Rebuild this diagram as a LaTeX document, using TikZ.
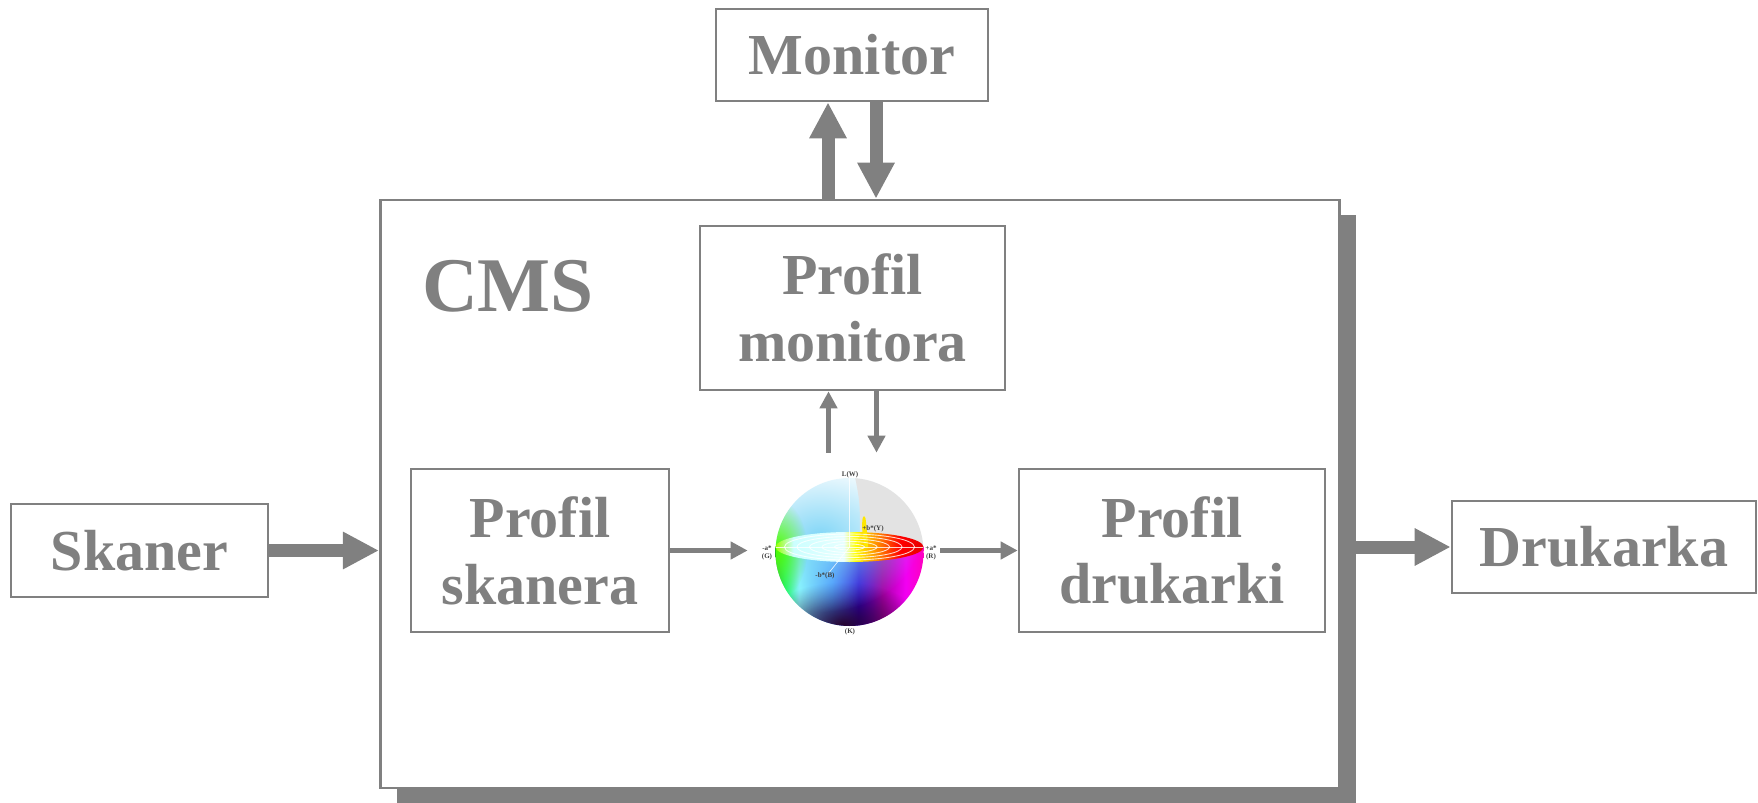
\documentclass[tikz,border=0pt]{standalone}
\usepackage{fontspec}
\setmainfont{Liberation Serif}
\usetikzlibrary{arrows.meta, positioning, calc, shadows, fadings}

\definecolor{cmsgray}{RGB}{128,128,128}

% hue bands for the colour sphere (lower half and equator plane)
\pgfdeclarehorizontalshading{labhue}{100bp}{color(0bp)=(green!60!black); color(25bp)=(green!60!black); color(28bp)=(green!70!cyan); color(33bp)=(cyan!45!white); color(44bp)=(cyan!40!blue!75!white); color(53bp)=(blue!65!violet); color(61bp)=(violet!70!magenta); color(69bp)=(magenta!90!violet); color(75bp)=(magenta!75!red); color(100bp)=(magenta!75!red)}
\pgfdeclarehorizontalshading{labdisk}{100bp}{color(0bp)=(green!40!yellow); color(25bp)=(green!40!yellow); color(31bp)=(cyan!20); color(48bp)=(cyan!10); color(52bp)=(yellow); color(60bp)=(orange); color(67bp)=(red); color(75bp)=(red!90!black); color(100bp)=(red!90!black)}
\tikzfading[name=softblob, inner color=transparent!0, outer color=transparent!100]

\begin{document}
\begin{tikzpicture}[
	box/.style={draw=cmsgray, line width=1.5pt, fill=white, inner sep=0pt, align=center,
		text=cmsgray, font=\fontsize{33}{38}\selectfont\bfseries},
	bigarrow/.style={draw=cmsgray, line width=0.26cm, -{Triangle[length=0.72cm, width=0.7cm]}},
	smallarrow/.style={draw=cmsgray, line width=0.1cm, -{Triangle[length=0.34cm, width=0.34cm]}},
	labtext/.style={font=\fontsize{4}{4.5}\selectfont\bfseries, text=black!75, inner sep=0pt, align=center}
	]
	
	\useasboundingbox (0,0) rectangle (35.16,16.04);
	
	% CMS frame with its shadow
	\node[box, minimum width=19.19cm, minimum height=11.76cm,
		general shadow={fill=cmsgray, shadow xshift=0.33cm, shadow yshift=-0.3cm}] (cms) at (17.2,6.16) {};
	\node[anchor=base, text=cmsgray, font=\fontsize{44}{44}\selectfont\bfseries] (cmslabel) at (10.16,9.8) {CMS};
	
	\node[box, minimum width=5.44cm, minimum height=1.84cm] (monitor) at (17.04,14.94) {Monitor};
	\node[box, minimum width=6.1cm, minimum height=3.28cm] (pmon) at (17.05,9.88) {Profil\\monitora};
	\node[box, minimum width=5.16cm, minimum height=3.26cm] (pskan) at (10.8,5.03) {Profil\\skanera};
	\node[box, minimum width=6.12cm, minimum height=3.26cm] (pdruk) at (23.44,5.03) {Profil\\drukarki};
	\node[box, minimum width=5.14cm, minimum height=1.86cm] (skaner) at (2.79,5.03) {Skaner};
	\node[box, minimum width=6.08cm, minimum height=1.84cm] (druk) at (32.08,5.1) {Drukarka};
	
	% room for the colour sphere
	\node[minimum width=3.84cm, minimum height=3.96cm, inner sep=0pt] (lab) at (16.88,5.0) {};
	\coordinate (sph) at (16.99,5.0);
	
	% colour sphere
	\begin{scope}
		\clip (sph) circle (1.48);
		\shade[shading=labhue] (15.51,3.5) rectangle (18.47,5.12);
		\fill[black!70!violet, opacity=0.95, path fading=softblob] (16.85,3.55) ellipse (1.6 and 0.85);
		\fill[white] (15.5,5.1) rectangle (18.5,6.5);
		\fill[cyan!50, path fading=softblob] (16.4,5.3) ellipse (2.0 and 1.5);
		\fill[green!70!yellow, path fading=softblob] (15.55,5.05) ellipse (0.6 and 1.0);
		\fill[gray!22] (17.1,6.5) .. controls (17.2,6.0) .. (17.2,5.1) -- (18.5,5.1) -- (18.5,6.5) -- cycle;
		\shade[shading=labdisk] (16.99,5.1) ellipse (1.48 and 0.3);
		\fill[yellow!90!orange] (17.28,5.1) -- (17.24,5.5) .. controls (17.25,5.7) .. (17.28,5.72) .. controls (17.31,5.7) .. (17.33,5.5) -- (17.36,5.1) -- cycle;
		\foreach \r in {0.3,0.55,0.8,1.05,1.3}
			\draw[white, line width=0.5pt, opacity=0.8] (16.99,5.1) ellipse ({\r} and {\r*0.2});
		\draw[white, line width=0.4pt, opacity=0.8] (15.5,5.1) -- (18.5,5.1);
		\draw[white, line width=0.4pt, opacity=0.8] (16.99,6.5) -- (16.99,5.1) -- (16.55,4.55);
	\end{scope}
	
	\node[labtext] (lw) at (17.0,6.54) {L(W)};
	\node[labtext] (by) at (17.46,5.46) {+b*(Y)};
	\node[labtext] (ag) at (15.34,4.99) {-a*\\(G)};
	\node[labtext] (ar) at (18.62,4.99) {+a*\\(R)};
	\node[labtext] (bb) at (16.5,4.52) {-b*(B)};
	\node[labtext] (k) at (17.0,3.4) {(K)};
	
	% outer data flow
	\draw[bigarrow] (skaner.east) -- (skaner.east -| cms.west);
	\draw[bigarrow] (druk.west -| cms.east) -- (druk.west);
	\draw[bigarrow] ([xshift=-0.48cm]monitor.south |- cms.north) -- ([xshift=-0.48cm]monitor.south);
	\draw[bigarrow] ([xshift=0.48cm]monitor.south) -- ([xshift=0.48cm]monitor.south |- cms.north);
	
	% flow inside the CMS
	\draw[smallarrow] (pskan.east) -- (pskan.east -| lab.west);
	\draw[smallarrow] (lab.east |- pdruk.west) -- (pdruk.west);
	\draw[smallarrow] ([xshift=-0.48cm]pmon.south |- lab.north) -- ([xshift=-0.48cm]pmon.south);
	\draw[smallarrow] ([xshift=0.48cm]pmon.south) -- ([xshift=0.48cm]pmon.south |- lab.north);
	
\end{tikzpicture}
\end{document}
